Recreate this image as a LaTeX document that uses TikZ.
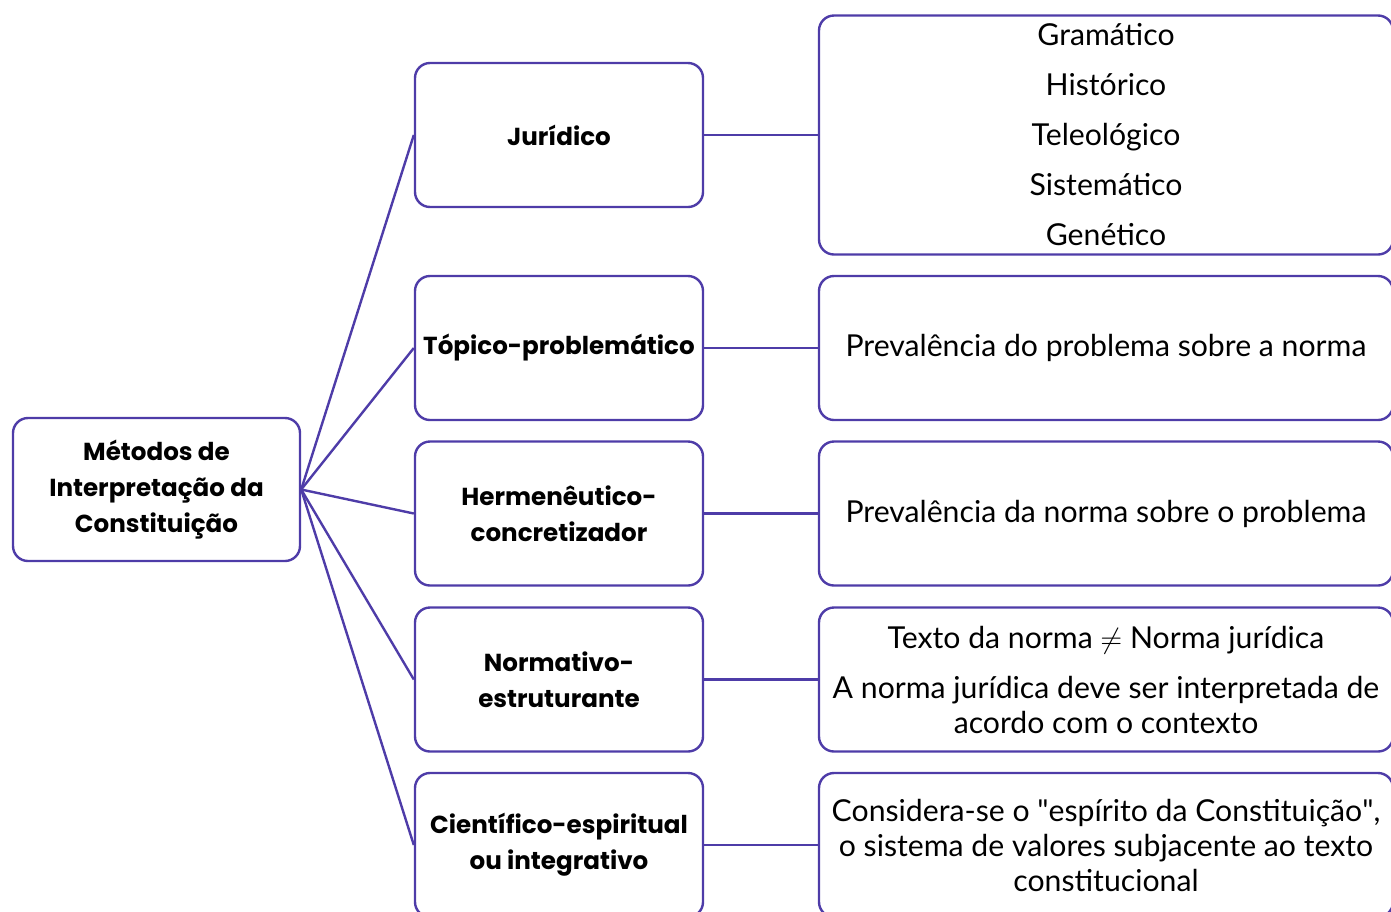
\documentclass[tikz,border=0pt]{standalone}
\usepackage{fontspec}
\setmainfont{Lato}
\newfontfamily\methodfont{Poppins}
\usetikzlibrary{positioning}
\definecolor{linkpurple}{RGB}{78,60,168}

\tikzset{
  roundbox/.style={draw=linkpurple, line width=1.2pt, rounded corners=7.5pt, align=center, inner sep=2pt},
  method/.style={roundbox, minimum width=144pt, minimum height=72pt,
    font=\methodfont\bfseries\fontsize{12.3}{18}\selectfont},
  note/.style={roundbox, minimum width=287pt, minimum height=72pt,
    font=\fontsize{15.1}{17.5}\selectfont},
  link/.style={draw=linkpurple, line width=1.2pt}
}

\begin{document}
\begin{tikzpicture}[x=0.5pt,y=-0.5pt]
\clip (0,0) rectangle (1391,911);

% root
\node[method, minimum width=143.5pt, minimum height=71.5pt] (root) at (156.5,489.5) {Métodos de\\Interpretação da\\Constituição};

% methods
\node[method] (jur) at (559,135) {Jurídico};
\node[method] (top) at (559,348) {Tópico-problemático};
\node[method] (her) at (559,513.5) {Hermenêutico-\\concretizador};
\node[method] (nor) at (559,679.5) {Normativo-\\estruturante};
\node[method] (cie) at (559,845) {Científico-espiritual\\ou integrativo};

% notes
\node[note, minimum height=119.5pt] (jurnote) at (1106,135) {Gramático\\[7.5pt] Histórico\\[7.5pt] Teleológico\\[7.5pt] Sistemático\\[7.5pt] Genético};
\node[note] (topnote) at (1106,348) {Prevalência do problema sobre a norma};
\node[note] (hernote) at (1106,513.5) {Prevalência da norma sobre o problema};
\node[note] (nornote) at (1106,679.5) {Texto da norma $\neq$ Norma jurídica\\[7.5pt] A norma jurídica deve ser interpretada de\\acordo com o contexto};
\node[note] (cienote) at (1106,845) {Considera-se o \textquotedbl espírito da Constituição\textquotedbl,\\o sistema de valores subjacente ao texto\\constitucional};

% connectors
\foreach \m in {jur,top,her,nor,cie}{
  \draw[link] (root.east) -- (\m.west);
  \draw[link] (\m.east) -- (\m note.west);
}
\end{tikzpicture}
\end{document}
